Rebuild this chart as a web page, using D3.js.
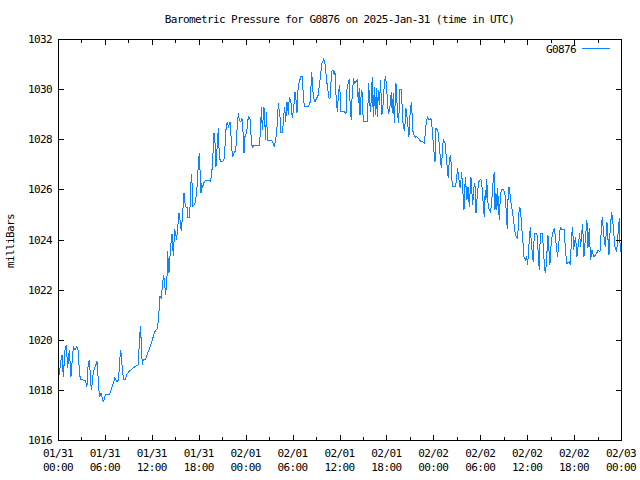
<!DOCTYPE html>
<html>
<head>
<meta charset="utf-8">
<script src="https://cdn.jsdelivr.net/npm/d3@7"></script>
<style>
  html, body { margin: 0; padding: 0; background: #fff; }
  svg { display: block; }
  text { font-family: "DejaVu Sans Mono", monospace; font-size: 11px; letter-spacing: -0.6px; fill: #000; }
</style>
</head>
<body>
<svg id="chart" width="640" height="480"></svg>
<script>
// ---- Data (hours since 2025-01-31 00:00 UTC, pressure in mb) ----
const titleText = "Barometric Pressure for G0876 on 2025-Jan-31 (time in UTC)";
const seriesName = "G0876";
const yLabel = "milliBars";
const yTicks = [1016, 1018, 1020, 1022, 1024, 1026, 1028, 1030, 1032];
const startTime = "2025-01-31T00:00:00Z";
const endTime = "2025-02-03T00:00:00Z";

const hours = [
  0,0.256,0.384,0.51,0.68,0.895,1.065,1.236,1.449,1.662,1.96,2.174,2.43,2.6,2.73,2.86,3.15,3.49,3.7,3.84,
  4.01,4.26,4.35,4.52,4.77,4.99,5.07,5.2,5.33,5.5,5.71,5.84,6.05,6.56,6.78,7.08,7.25,7.54,7.76,7.84,
  8.01,8.1,8.27,8.4,8.61,8.78,9.04,9.33,9.55,9.89,10.23,10.31,10.53,10.61,10.78,10.91,11.17,11.47,11.81,12.06,
  12.4,12.74,12.87,13.04,13.21,13.38,13.51,13.77,13.94,14.02,14.19,14.41,14.58,14.75,14.92,15.17,15.47,15.6,15.77,15.94,
  16.11,16.28,16.5,16.62,16.84,16.97,17.09,17.26,
  17.52,17.73,17.86,17.95,18.07,18.29,18.37,18.50,18.71,19.01,19.31,19.52,19.74,19.95,20.08,20.20,20.50,20.63,20.80,21.06,
  21.27,21.35,21.44,21.65,21.78,21.99,22.12,22.21,22.33,22.55,22.72,22.93,23.06,23.19,23.36,23.53,23.70,23.79,23.91,24.13,
  24.34,24.55,24.77,24.89,25.11,25.62,25.75,25.92,26.00,26.13,26.34,26.56,26.64,26.81,27.32,27.54,27.66,27.84,28.01,28.18,
  28.39,28.52,28.73,28.86,28.99,29.11,29.29,29.46,29.58,29.80,29.97,30.14,30.31,30.44,30.56,30.69,30.86,31.07,31.24,31.37,
  31.50,32.01,32.27,32.44,32.65,32.87,33.29,33.50,33.76,33.97,34.14,34.40,34.57,34.66,34.78,35.00,35.17,35.34,
  35.42,35.55,35.72,35.85,35.98,36.10,36.19,36.61,36.83,36.95,37.13,37.25,37.38,37.51,37.64,37.81,37.98,38.11,38.28,38.40,
  38.53,38.62,38.75,38.87,39.00,39.13,39.55,39.64,39.73,39.85,39.98,40.19,40.32,40.45,40.58,40.71,40.83,40.96,41.09,41.26,
  41.39,41.52,41.60,41.77,41.90,42.03,42.24,42.37,42.50,42.62,42.75,42.88,43.01,43.22,43.43,43.56,43.73,43.90,44.16,44.33,
  44.50,44.67,44.88,45.05,45.22,45.35,45.52,45.74,45.91,46.16,46.42,46.63,46.85,47.06,47.23,47.48,47.70,47.87,48.04,48.21,
  48.34,48.51,48.64,48.81,49.02,49.27,49.49,49.91,50.04,50.21,50.43,50.85,51.11,51.28,51.45,51.62,51.92,52.09,52.30,52.43,
  52.60,52.81,53.03,53.24,
  53.32,53.45,53.53,53.66,53.83,54.00,54.17,54.34,54.51,54.64,54.73,54.81,54.90,55.03,55.20,55.32,55.45,55.66,55.79,55.88,
  56.01,56.13,56.22,56.43,56.56,56.69,56.94,57.11,57.24,57.37,57.46,57.58,57.71,57.88,58.01,58.18,58.31,58.44,58.61,58.78,
  58.99,59.16,59.29,59.46,59.59,59.76,59.93,60.06,60.23,60.40,60.57,60.78,60.91,61.25,61.55,61.68,61.97,62.10,62.31,62.44,
  62.66,62.91,63.08,63.30,63.47,63.89,64.23,64.45,64.74,64.92,65.09,65.38,65.51,65.68,65.81,65.94,66.19,66.36,66.54,66.71,
  66.83,67.09,67.26,67.64,67.77,67.94,68.11,68.28,68.54,68.88,69.09,69.31,69.60,69.82,69.99,70.20,70.46,70.59,70.80,70.93,
  71.23,71.44,71.78,71.91
];

const pressure = [
  1018.3,1018.87,1019.2,1019.4,1018.53,1019.6,1019.8,1018.87,1019.6,1018.53,1019.73,1019.6,1019.73,1019.53,1018.73,1018.43,1018.4,1018.37,1018.13,1018.93,
  1019.2,1018.0,1018.2,1018.73,1018.93,1019.13,1018.8,1018.07,1017.73,1017.87,1017.6,1017.53,1017.8,1017.8,1018.0,1018.27,1018.47,1018.33,1018.4,1019.0,
  1019.6,1019.33,1018.67,1018.4,1018.4,1018.6,1018.73,1018.8,1018.87,1018.93,1019.0,1019.33,1020.53,1020.13,1019.0,1019.2,1019.2,1019.47,1019.73,1020.0,
  1020.33,1020.47,1020.93,1021.73,1021.67,1022.27,1022.6,1021.8,1022.53,1023.53,1022.67,1023.73,1024.2,1023.33,1024.4,1024.0,1025.07,1024.8,1024.33,1025.0,
  1025.87,1025.33,1025.27,1024.87,1024.87,1026.13,1026.6,1025.33,
  1025.44,1025.84,1026.51,1027.04,1027.44,1025.84,1026.24,1026.11,1026.31,1026.37,1026.37,1026.31,1026.91,1028.24,1027.84,1026.91,1028.44,1027.30,1027.10,1027.10,
  1027.24,1027.64,1028.30,1028.70,1028.50,1028.70,1028.17,1027.64,1027.30,1027.50,1027.50,1028.57,1029.03,1028.77,1028.70,1028.83,1028.10,1027.44,1028.10,1028.30,
  1028.90,1028.83,1027.77,1027.70,1027.77,1027.77,1027.77,1028.44,1029.30,1028.37,1029.30,1027.97,1029.10,1027.97,1027.97,1027.84,1027.70,1027.97,1028.50,1029.43,
  1028.90,1028.24,1028.30,1028.90,1029.30,1028.70,1029.50,1028.97,1029.70,1029.43,1028.83,1029.23,1029.90,1029.57,1029.03,1029.97,1030.30,1030.50,1030.50,1029.77,
  1029.30,1029.30,1029.50,1030.70,1029.70,1029.50,1029.77,1030.36,1031.03,1031.19,1031.03,1030.23,1029.83,1029.63,1029.63,1030.70,1030.76,1030.56,
  1030.70,1029.77,1029.10,1029.70,1030.16,1029.77,1029.10,1029.10,1029.03,1029.97,1030.30,1030.36,1029.23,1028.77,1029.97,1030.36,1030.23,1030.30,1030.36,1029.43,
  1030.03,1028.97,1029.70,1029.97,1028.97,1028.70,1028.70,1029.37,1030.23,1029.50,1029.10,1030.50,1028.90,1030.10,1028.97,1030.03,1028.90,1029.97,1029.37,1030.36,
  1028.97,1029.10,1029.57,1030.36,1030.50,1030.03,1029.03,1029.10,1029.43,1029.90,1029.03,1029.83,1028.63,1030.23,1029.03,1028.63,1029.97,1029.97,1028.44,1028.37,
  1029.23,1028.77,1028.10,1029.17,1029.50,1028.37,1028.17,1028.08,1028.10,1028.00,1027.90,1027.90,1027.84,1028.57,1028.90,1028.77,1028.83,1028.37,1027.64,1027.10,
  1028.44,1028.37,1028.24,1027.57,1026.84,1027.97,1027.84,1026.44,1027.17,1027.37,1026.11,1026.11,1026.84,1026.37,1026.04,1026.71,1025.18,1026.51,1025.58,1026.11,
  1025.31,1026.51,1025.38,1026.24,
  1026.24,1025.04,1025.38,1025.91,1026.31,1026.40,1026.35,1025.58,1024.91,1025.98,1025.58,1026.40,1026.04,1025.24,1025.18,1025.11,1025.44,1026.37,1026.71,1025.18,
  1025.84,1025.18,1026.04,1024.78,1025.64,1025.98,1026.00,1025.91,1025.58,1024.84,1024.40,1025.98,1026.11,1025.58,1025.31,1024.98,1024.64,1024.31,1024.11,1024.05,
  1025.31,1025.18,1024.51,1023.91,1023.31,1023.18,1023.31,1022.98,1023.78,1024.51,1023.71,1023.11,1024.22,1024.22,1022.78,1024.25,1024.22,1023.45,1022.65,1022.98,
  1024.18,1022.98,1023.91,1024.31,1024.45,1023.31,1024.49,1024.40,1024.40,1023.45,1023.05,1023.11,1022.98,1024.11,1024.51,1023.58,1024.11,1023.31,1023.78,1024.25,
  1023.71,1024.62,1023.31,1024.78,1023.65,1024.45,1023.18,1023.58,1023.31,1023.45,1023.58,1023.51,1024.91,1024.11,1023.71,1024.71,1023.38,1024.25,1025.11,1024.78,
  1023.71,1023.51,1024.84,1023.51
];

// ---- Layout ----
const plotL = 58, plotR = 621, plotT = 39, plotB = 440;
const lineColor = "#0a84ff";

const svg = d3.select("#chart");
const t0 = new Date(startTime), t1 = new Date(endTime);
const n = Math.min(hours.length, pressure.length);
const data = hours.slice(0, n).map((h, i) => ({ t: new Date(t0.getTime() + h * 3600e3), v: pressure[i] }));

const x = d3.scaleUtc().domain([t0, t1]).range([plotL, plotR]);
const y = d3.scaleLinear().domain([yTicks[0], yTicks[yTicks.length - 1]]).range([plotB, plotT]);

const g = svg.append("g");

// Data line
g.append("path")
  .datum(data)
  .attr("fill", "none")
  .attr("stroke", lineColor)
  .attr("stroke-width", 1)
  .attr("shape-rendering", "crispEdges")
  .attr("d", d3.line().x(d => x(d.t)).y(d => y(d.v)));

// Frame
g.append("rect")
  .attr("x", plotL + 0.5).attr("y", plotT + 0.5)
  .attr("width", plotR - plotL).attr("height", plotB - plotT)
  .attr("fill", "none").attr("stroke", "#000").attr("stroke-width", 1)
  .attr("shape-rendering", "crispEdges");

const major = 5, minor = 3;
const ticksG = g.append("g").attr("stroke", "#000").attr("stroke-width", 1).attr("shape-rendering", "crispEdges");

// X ticks (major every 6h, minor every 3h), mirrored top and bottom
const xMajor = x.ticks(d3.utcHour.every(6));
const xMinor = x.ticks(d3.utcHour.every(3)).filter(d => d.getUTCHours() % 6 !== 0);
function xt(list, len) {
  list.forEach(d => {
    const px = Math.round(x(d)) + 0.5;
    ticksG.append("line").attr("x1", px).attr("x2", px).attr("y1", plotB).attr("y2", plotB - len);
    ticksG.append("line").attr("x1", px).attr("x2", px).attr("y1", plotT + 1).attr("y2", plotT + 1 + len);
  });
}
xt(xMajor, major);
xt(xMinor, minor);

// Y ticks mirrored left and right
yTicks.forEach(v => {
  const py = Math.round(y(v)) + 0.5;
  ticksG.append("line").attr("x1", plotL + 1).attr("x2", plotL + 1 + major).attr("y1", py).attr("y2", py);
  ticksG.append("line").attr("x1", plotR).attr("x2", plotR - major).attr("y1", py).attr("y2", py);
});

// Y tick labels
const fmtDate = d3.utcFormat("%m/%d"), fmtTime = d3.utcFormat("%H:%M");
g.append("g").selectAll("text").data(yTicks).join("text")
  .attr("x", 52).attr("y", d => y(d) + 4)
  .attr("text-anchor", "end")
  .text(d => d);

// X tick labels (two lines)
const xl = g.append("g").selectAll("g").data(xMajor).join("g");
xl.append("text").attr("x", d => x(d)).attr("y", 457).attr("text-anchor", "middle").text(d => fmtDate(d));
xl.append("text").attr("x", d => x(d)).attr("y", 471).attr("text-anchor", "middle").text(d => fmtTime(d));

// Title
svg.append("text").attr("x", (plotL + plotR) / 2).attr("y", 23).attr("text-anchor", "middle").text(titleText);

// Y axis label
svg.append("text").attr("transform", "translate(14,241) rotate(-90)").attr("text-anchor", "middle").text(yLabel);

// Legend
svg.append("text").attr("x", 576).attr("y", 53).attr("text-anchor", "end").text(seriesName);
svg.append("line").attr("x1", 582).attr("x2", 610).attr("y1", 48.5).attr("y2", 48.5)
  .attr("stroke", lineColor).attr("stroke-width", 1);
</script>
</body>
</html>
